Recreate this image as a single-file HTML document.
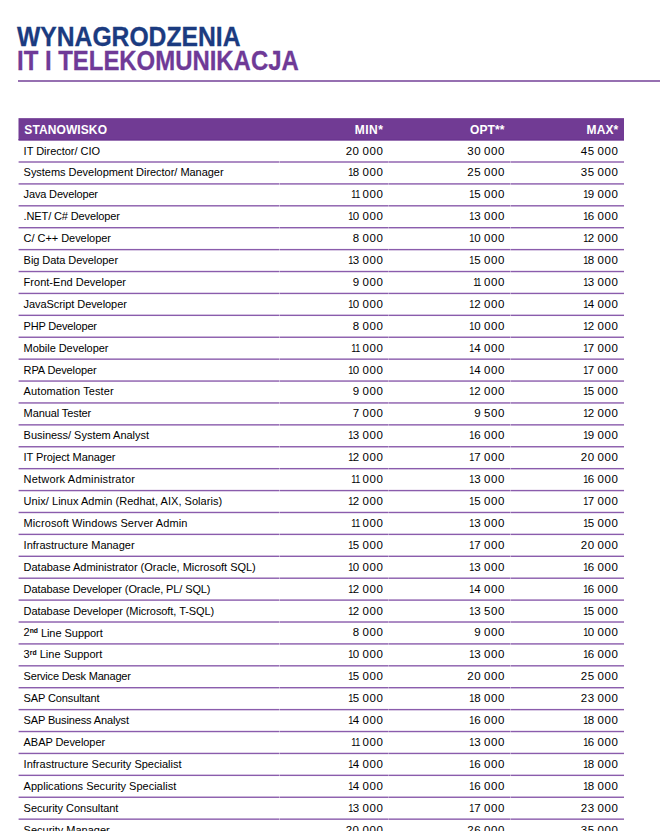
<!DOCTYPE html><html><head><meta charset="utf-8"><style>
*{margin:0;padding:0;box-sizing:border-box}
html,body{width:662px;height:831px;overflow:hidden;background:#fff}
body{position:relative;font-family:"Liberation Sans",Arial,sans-serif}
.t{position:absolute;white-space:nowrap;font-weight:bold;font-size:27px;line-height:1;transform-origin:0 0}
.t1{left:17px;top:24.1px;color:#1b3b80;transform:scaleX(0.914);-webkit-text-stroke:0.3px #1b3b80}
.t2{left:17.4px;top:48.1px;color:#6f3a97;transform:scaleX(0.886);-webkit-text-stroke:0.3px #6f3a97}
.hr{position:absolute;left:18px;top:80px;width:642.3px;height:2px;background:#9670b1}
.h{position:absolute;color:#fff;font-weight:bold;font-size:12px;line-height:1;white-space:nowrap;letter-spacing:0.1px}
.c{position:absolute;color:#000;font-size:11px;line-height:1;white-space:nowrap}
.r{text-align:right}
.o{display:inline-block;width:3.8px;letter-spacing:0}
.o i{font-style:normal;display:inline-block;margin-left:-1.1px;transform:scaleX(.8);transform-origin:1.3px 0}
.n{font-size:11.5px;letter-spacing:0.6px;word-spacing:-1.0px;margin-right:-0.6px}
svg{position:absolute;left:0;top:0;z-index:0}
.h,.c,.t,.hr{z-index:1}
sup{font-size:6.8px;font-weight:bold;vertical-align:0;position:relative;top:-3.4px}
</style></head><body>
<div class="t t1">WYNAGRODZENIA</div>
<div class="t t2">IT I TELEKOMUNIKACJA</div>
<div class="hr"></div>
<div class="h" style="left:24.3px;top:124px">STANOWISKO</div>
<div class="h r" style="right:279.2px;top:124px;margin-right:-0.5px;letter-spacing:0.5px">MIN*</div>
<div class="h r" style="right:157.5px;top:124px;margin-right:-0.1px">OPT**</div>
<div class="h r" style="right:43.8px;top:124px;margin-right:-0.1px">MAX*</div>
<div class="c" style="left:23.6px;top:146.00px;letter-spacing:-0.020px">IT Director/ CIO</div>
<div class="c r n" style="right:279.2px;top:146.00px">20 000</div>
<div class="c r n" style="right:157.5px;top:146.00px">30 000</div>
<div class="c r n" style="right:44.0px;top:146.00px">45 000</div>
<div class="c" style="left:23.6px;top:167.00px;letter-spacing:-0.031px">Systems Development Director/ Manager</div>
<div class="c r n" style="right:279.2px;top:167.00px"><span class="o"><i>1</i></span>8 000</div>
<div class="c r n" style="right:157.5px;top:167.00px">25 000</div>
<div class="c r n" style="right:44.0px;top:167.00px">35 000</div>
<div class="c" style="left:23.6px;top:189.00px;letter-spacing:-0.154px">Java Developer</div>
<div class="c r n" style="right:279.2px;top:189.00px"><span class="o"><i>1</i></span><span class="o"><i>1</i></span> 000</div>
<div class="c r n" style="right:157.5px;top:189.00px"><span class="o"><i>1</i></span>5 000</div>
<div class="c r n" style="right:44.0px;top:189.00px"><span class="o"><i>1</i></span>9 000</div>
<div class="c" style="left:23.6px;top:211.00px;letter-spacing:-0.129px">.NET/ C# Developer</div>
<div class="c r n" style="right:279.2px;top:211.00px"><span class="o"><i>1</i></span>0 000</div>
<div class="c r n" style="right:157.5px;top:211.00px"><span class="o"><i>1</i></span>3 000</div>
<div class="c r n" style="right:44.0px;top:211.00px"><span class="o"><i>1</i></span>6 000</div>
<div class="c" style="left:23.6px;top:233.00px;letter-spacing:-0.047px">C/ C++ Developer</div>
<div class="c r n" style="right:279.2px;top:233.00px">8 000</div>
<div class="c r n" style="right:157.5px;top:233.00px"><span class="o"><i>1</i></span>0 000</div>
<div class="c r n" style="right:44.0px;top:233.00px"><span class="o"><i>1</i></span>2 000</div>
<div class="c" style="left:23.6px;top:255.00px;letter-spacing:-0.053px">Big Data Developer</div>
<div class="c r n" style="right:279.2px;top:255.00px"><span class="o"><i>1</i></span>3 000</div>
<div class="c r n" style="right:157.5px;top:255.00px"><span class="o"><i>1</i></span>5 000</div>
<div class="c r n" style="right:44.0px;top:255.00px"><span class="o"><i>1</i></span>8 000</div>
<div class="c" style="left:23.6px;top:277.00px;letter-spacing:0.017px">Front-End Developer</div>
<div class="c r n" style="right:279.2px;top:277.00px">9 000</div>
<div class="c r n" style="right:157.5px;top:277.00px"><span class="o"><i>1</i></span><span class="o"><i>1</i></span> 000</div>
<div class="c r n" style="right:44.0px;top:277.00px"><span class="o"><i>1</i></span>3 000</div>
<div class="c" style="left:23.6px;top:299.00px;letter-spacing:-0.068px">JavaScript Developer</div>
<div class="c r n" style="right:279.2px;top:299.00px"><span class="o"><i>1</i></span>0 000</div>
<div class="c r n" style="right:157.5px;top:299.00px"><span class="o"><i>1</i></span>2 000</div>
<div class="c r n" style="right:44.0px;top:299.00px"><span class="o"><i>1</i></span>4 000</div>
<div class="c" style="left:23.6px;top:321.00px;letter-spacing:-0.183px">PHP Developer</div>
<div class="c r n" style="right:279.2px;top:321.00px">8 000</div>
<div class="c r n" style="right:157.5px;top:321.00px"><span class="o"><i>1</i></span>0 000</div>
<div class="c r n" style="right:44.0px;top:321.00px"><span class="o"><i>1</i></span>2 000</div>
<div class="c" style="left:23.6px;top:343.00px;letter-spacing:-0.047px">Mobile Developer</div>
<div class="c r n" style="right:279.2px;top:343.00px"><span class="o"><i>1</i></span><span class="o"><i>1</i></span> 000</div>
<div class="c r n" style="right:157.5px;top:343.00px"><span class="o"><i>1</i></span>4 000</div>
<div class="c r n" style="right:44.0px;top:343.00px"><span class="o"><i>1</i></span>7 000</div>
<div class="c" style="left:23.6px;top:365.00px;letter-spacing:-0.117px">RPA Developer</div>
<div class="c r n" style="right:279.2px;top:365.00px"><span class="o"><i>1</i></span>0 000</div>
<div class="c r n" style="right:157.5px;top:365.00px"><span class="o"><i>1</i></span>4 000</div>
<div class="c r n" style="right:44.0px;top:365.00px"><span class="o"><i>1</i></span>7 000</div>
<div class="c" style="left:23.6px;top:386.00px;letter-spacing:0.094px">Automation Tester</div>
<div class="c r n" style="right:279.2px;top:386.00px">9 000</div>
<div class="c r n" style="right:157.5px;top:386.00px"><span class="o"><i>1</i></span>2 000</div>
<div class="c r n" style="right:44.0px;top:386.00px"><span class="o"><i>1</i></span>5 000</div>
<div class="c" style="left:23.6px;top:408.00px;letter-spacing:-0.100px">Manual Tester</div>
<div class="c r n" style="right:279.2px;top:408.00px">7 000</div>
<div class="c r n" style="right:157.5px;top:408.00px">9 500</div>
<div class="c r n" style="right:44.0px;top:408.00px"><span class="o"><i>1</i></span>2 000</div>
<div class="c" style="left:23.6px;top:430.00px;letter-spacing:-0.022px">Business/ System Analyst</div>
<div class="c r n" style="right:279.2px;top:430.00px"><span class="o"><i>1</i></span>3 000</div>
<div class="c r n" style="right:157.5px;top:430.00px"><span class="o"><i>1</i></span>6 000</div>
<div class="c r n" style="right:44.0px;top:430.00px"><span class="o"><i>1</i></span>9 000</div>
<div class="c" style="left:23.6px;top:452.00px;letter-spacing:-0.088px">IT Project Manager</div>
<div class="c r n" style="right:279.2px;top:452.00px"><span class="o"><i>1</i></span>2 000</div>
<div class="c r n" style="right:157.5px;top:452.00px"><span class="o"><i>1</i></span>7 000</div>
<div class="c r n" style="right:44.0px;top:452.00px">20 000</div>
<div class="c" style="left:23.6px;top:474.00px;letter-spacing:0.185px">Network Administrator</div>
<div class="c r n" style="right:279.2px;top:474.00px"><span class="o"><i>1</i></span><span class="o"><i>1</i></span> 000</div>
<div class="c r n" style="right:157.5px;top:474.00px"><span class="o"><i>1</i></span>3 000</div>
<div class="c r n" style="right:44.0px;top:474.00px"><span class="o"><i>1</i></span>6 000</div>
<div class="c" style="left:23.6px;top:496.00px;letter-spacing:0.044px">Unix/ Linux Admin (Redhat, AIX, Solaris)</div>
<div class="c r n" style="right:279.2px;top:496.00px"><span class="o"><i>1</i></span>2 000</div>
<div class="c r n" style="right:157.5px;top:496.00px"><span class="o"><i>1</i></span>5 000</div>
<div class="c r n" style="right:44.0px;top:496.00px"><span class="o"><i>1</i></span>7 000</div>
<div class="c" style="left:23.6px;top:518.00px;letter-spacing:0.083px">Microsoft Windows Server Admin</div>
<div class="c r n" style="right:279.2px;top:518.00px"><span class="o"><i>1</i></span><span class="o"><i>1</i></span> 000</div>
<div class="c r n" style="right:157.5px;top:518.00px"><span class="o"><i>1</i></span>3 000</div>
<div class="c r n" style="right:44.0px;top:518.00px"><span class="o"><i>1</i></span>5 000</div>
<div class="c" style="left:23.6px;top:540.00px;letter-spacing:-0.014px">Infrastructure Manager</div>
<div class="c r n" style="right:279.2px;top:540.00px"><span class="o"><i>1</i></span>5 000</div>
<div class="c r n" style="right:157.5px;top:540.00px"><span class="o"><i>1</i></span>7 000</div>
<div class="c r n" style="right:44.0px;top:540.00px">20 000</div>
<div class="c" style="left:23.6px;top:562.00px;letter-spacing:-0.016px">Database Administrator (Oracle, Microsoft SQL)</div>
<div class="c r n" style="right:279.2px;top:562.00px"><span class="o"><i>1</i></span>0 000</div>
<div class="c r n" style="right:157.5px;top:562.00px"><span class="o"><i>1</i></span>3 000</div>
<div class="c r n" style="right:44.0px;top:562.00px"><span class="o"><i>1</i></span>6 000</div>
<div class="c" style="left:23.6px;top:584.00px;letter-spacing:-0.109px">Database Developer (Oracle, PL/ SQL)</div>
<div class="c r n" style="right:279.2px;top:584.00px"><span class="o"><i>1</i></span>2 000</div>
<div class="c r n" style="right:157.5px;top:584.00px"><span class="o"><i>1</i></span>4 000</div>
<div class="c r n" style="right:44.0px;top:584.00px"><span class="o"><i>1</i></span>6 000</div>
<div class="c" style="left:23.6px;top:606.00px;letter-spacing:-0.064px">Database Developer (Microsoft, T-SQL)</div>
<div class="c r n" style="right:279.2px;top:606.00px"><span class="o"><i>1</i></span>2 000</div>
<div class="c r n" style="right:157.5px;top:606.00px"><span class="o"><i>1</i></span>3 500</div>
<div class="c r n" style="right:44.0px;top:606.00px"><span class="o"><i>1</i></span>5 000</div>
<div class="c" style="left:23.6px;top:627.00px;letter-spacing:-0.047px">2<sup>nd</sup><span style="position:relative;top:1px"> Line Support</span></div>
<div class="c r n" style="right:279.2px;top:627.00px">8 000</div>
<div class="c r n" style="right:157.5px;top:627.00px">9 000</div>
<div class="c r n" style="right:44.0px;top:627.00px"><span class="o"><i>1</i></span>0 000</div>
<div class="c" style="left:23.6px;top:649.00px;letter-spacing:0.027px">3<sup>rd</sup> Line Support</div>
<div class="c r n" style="right:279.2px;top:649.00px"><span class="o"><i>1</i></span>0 000</div>
<div class="c r n" style="right:157.5px;top:649.00px"><span class="o"><i>1</i></span>3 000</div>
<div class="c r n" style="right:44.0px;top:649.00px"><span class="o"><i>1</i></span>6 000</div>
<div class="c" style="left:23.6px;top:671.00px;letter-spacing:-0.211px">Service Desk Manager</div>
<div class="c r n" style="right:279.2px;top:671.00px"><span class="o"><i>1</i></span>5 000</div>
<div class="c r n" style="right:157.5px;top:671.00px">20 000</div>
<div class="c r n" style="right:44.0px;top:671.00px">25 000</div>
<div class="c" style="left:23.6px;top:693.00px;letter-spacing:-0.123px">SAP Consultant</div>
<div class="c r n" style="right:279.2px;top:693.00px"><span class="o"><i>1</i></span>5 000</div>
<div class="c r n" style="right:157.5px;top:693.00px"><span class="o"><i>1</i></span>8 000</div>
<div class="c r n" style="right:44.0px;top:693.00px">23 000</div>
<div class="c" style="left:23.6px;top:715.00px;letter-spacing:-0.137px">SAP Business Analyst</div>
<div class="c r n" style="right:279.2px;top:715.00px"><span class="o"><i>1</i></span>4 000</div>
<div class="c r n" style="right:157.5px;top:715.00px"><span class="o"><i>1</i></span>6 000</div>
<div class="c r n" style="right:44.0px;top:715.00px"><span class="o"><i>1</i></span>8 000</div>
<div class="c" style="left:23.6px;top:737.00px;letter-spacing:-0.062px">ABAP Developer</div>
<div class="c r n" style="right:279.2px;top:737.00px"><span class="o"><i>1</i></span><span class="o"><i>1</i></span> 000</div>
<div class="c r n" style="right:157.5px;top:737.00px"><span class="o"><i>1</i></span>3 000</div>
<div class="c r n" style="right:44.0px;top:737.00px"><span class="o"><i>1</i></span>6 000</div>
<div class="c" style="left:23.6px;top:759.00px;letter-spacing:0.006px">Infrastructure Security Specialist</div>
<div class="c r n" style="right:279.2px;top:759.00px"><span class="o"><i>1</i></span>4 000</div>
<div class="c r n" style="right:157.5px;top:759.00px"><span class="o"><i>1</i></span>6 000</div>
<div class="c r n" style="right:44.0px;top:759.00px"><span class="o"><i>1</i></span>8 000</div>
<div class="c" style="left:23.6px;top:781.00px;letter-spacing:0.013px">Applications Security Specialist</div>
<div class="c r n" style="right:279.2px;top:781.00px"><span class="o"><i>1</i></span>4 000</div>
<div class="c r n" style="right:157.5px;top:781.00px"><span class="o"><i>1</i></span>6 000</div>
<div class="c r n" style="right:44.0px;top:781.00px"><span class="o"><i>1</i></span>8 000</div>
<div class="c" style="left:23.6px;top:803.00px;letter-spacing:-0.033px">Security Consultant</div>
<div class="c r n" style="right:279.2px;top:803.00px"><span class="o"><i>1</i></span>3 000</div>
<div class="c r n" style="right:157.5px;top:803.00px"><span class="o"><i>1</i></span>7 000</div>
<div class="c r n" style="right:44.0px;top:803.00px">23 000</div>
<div class="c" style="left:23.6px;top:825.00px;letter-spacing:-0.007px">Security Manager</div>
<div class="c r n" style="right:279.2px;top:825.00px">20 000</div>
<div class="c r n" style="right:157.5px;top:825.00px">26 000</div>
<div class="c r n" style="right:44.0px;top:825.00px">35 000</div>
<svg width="662" height="831" viewBox="0 0 662 831"><rect x="18.5" y="118.15" width="605.5" height="22.55" fill="#713b94"/><rect x="18.5" y="139" width="605.5" height="1" fill="#6b3590"/><rect x="18.6" y="161.30" width="260.9" height="1.4" fill="#8a5cac"/><rect x="279.9" y="161.30" width="108.2" height="1.4" fill="#8a5cac"/><rect x="388.4" y="161.30" width="121.9" height="1.4" fill="#8a5cac"/><rect x="510.6" y="161.30" width="113.4" height="1.4" fill="#8a5cac"/><rect x="18.6" y="183.21" width="260.9" height="1.4" fill="#8a5cac"/><rect x="279.9" y="183.21" width="108.2" height="1.4" fill="#8a5cac"/><rect x="388.4" y="183.21" width="121.9" height="1.4" fill="#8a5cac"/><rect x="510.6" y="183.21" width="113.4" height="1.4" fill="#8a5cac"/><rect x="18.6" y="205.11" width="260.9" height="1.4" fill="#8a5cac"/><rect x="279.9" y="205.11" width="108.2" height="1.4" fill="#8a5cac"/><rect x="388.4" y="205.11" width="121.9" height="1.4" fill="#8a5cac"/><rect x="510.6" y="205.11" width="113.4" height="1.4" fill="#8a5cac"/><rect x="18.6" y="227.02" width="260.9" height="1.4" fill="#8a5cac"/><rect x="279.9" y="227.02" width="108.2" height="1.4" fill="#8a5cac"/><rect x="388.4" y="227.02" width="121.9" height="1.4" fill="#8a5cac"/><rect x="510.6" y="227.02" width="113.4" height="1.4" fill="#8a5cac"/><rect x="18.6" y="248.92" width="260.9" height="1.4" fill="#8a5cac"/><rect x="279.9" y="248.92" width="108.2" height="1.4" fill="#8a5cac"/><rect x="388.4" y="248.92" width="121.9" height="1.4" fill="#8a5cac"/><rect x="510.6" y="248.92" width="113.4" height="1.4" fill="#8a5cac"/><rect x="18.6" y="270.83" width="260.9" height="1.4" fill="#8a5cac"/><rect x="279.9" y="270.83" width="108.2" height="1.4" fill="#8a5cac"/><rect x="388.4" y="270.83" width="121.9" height="1.4" fill="#8a5cac"/><rect x="510.6" y="270.83" width="113.4" height="1.4" fill="#8a5cac"/><rect x="18.6" y="292.73" width="260.9" height="1.4" fill="#8a5cac"/><rect x="279.9" y="292.73" width="108.2" height="1.4" fill="#8a5cac"/><rect x="388.4" y="292.73" width="121.9" height="1.4" fill="#8a5cac"/><rect x="510.6" y="292.73" width="113.4" height="1.4" fill="#8a5cac"/><rect x="18.6" y="314.63" width="260.9" height="1.4" fill="#8a5cac"/><rect x="279.9" y="314.63" width="108.2" height="1.4" fill="#8a5cac"/><rect x="388.4" y="314.63" width="121.9" height="1.4" fill="#8a5cac"/><rect x="510.6" y="314.63" width="113.4" height="1.4" fill="#8a5cac"/><rect x="18.6" y="336.54" width="260.9" height="1.4" fill="#8a5cac"/><rect x="279.9" y="336.54" width="108.2" height="1.4" fill="#8a5cac"/><rect x="388.4" y="336.54" width="121.9" height="1.4" fill="#8a5cac"/><rect x="510.6" y="336.54" width="113.4" height="1.4" fill="#8a5cac"/><rect x="18.6" y="358.45" width="260.9" height="1.4" fill="#8a5cac"/><rect x="279.9" y="358.45" width="108.2" height="1.4" fill="#8a5cac"/><rect x="388.4" y="358.45" width="121.9" height="1.4" fill="#8a5cac"/><rect x="510.6" y="358.45" width="113.4" height="1.4" fill="#8a5cac"/><rect x="18.6" y="380.35" width="260.9" height="1.4" fill="#8a5cac"/><rect x="279.9" y="380.35" width="108.2" height="1.4" fill="#8a5cac"/><rect x="388.4" y="380.35" width="121.9" height="1.4" fill="#8a5cac"/><rect x="510.6" y="380.35" width="113.4" height="1.4" fill="#8a5cac"/><rect x="18.6" y="402.25" width="260.9" height="1.4" fill="#8a5cac"/><rect x="279.9" y="402.25" width="108.2" height="1.4" fill="#8a5cac"/><rect x="388.4" y="402.25" width="121.9" height="1.4" fill="#8a5cac"/><rect x="510.6" y="402.25" width="113.4" height="1.4" fill="#8a5cac"/><rect x="18.6" y="424.16" width="260.9" height="1.4" fill="#8a5cac"/><rect x="279.9" y="424.16" width="108.2" height="1.4" fill="#8a5cac"/><rect x="388.4" y="424.16" width="121.9" height="1.4" fill="#8a5cac"/><rect x="510.6" y="424.16" width="113.4" height="1.4" fill="#8a5cac"/><rect x="18.6" y="446.06" width="260.9" height="1.4" fill="#8a5cac"/><rect x="279.9" y="446.06" width="108.2" height="1.4" fill="#8a5cac"/><rect x="388.4" y="446.06" width="121.9" height="1.4" fill="#8a5cac"/><rect x="510.6" y="446.06" width="113.4" height="1.4" fill="#8a5cac"/><rect x="18.6" y="467.97" width="260.9" height="1.4" fill="#8a5cac"/><rect x="279.9" y="467.97" width="108.2" height="1.4" fill="#8a5cac"/><rect x="388.4" y="467.97" width="121.9" height="1.4" fill="#8a5cac"/><rect x="510.6" y="467.97" width="113.4" height="1.4" fill="#8a5cac"/><rect x="18.6" y="489.88" width="260.9" height="1.4" fill="#8a5cac"/><rect x="279.9" y="489.88" width="108.2" height="1.4" fill="#8a5cac"/><rect x="388.4" y="489.88" width="121.9" height="1.4" fill="#8a5cac"/><rect x="510.6" y="489.88" width="113.4" height="1.4" fill="#8a5cac"/><rect x="18.6" y="511.78" width="260.9" height="1.4" fill="#8a5cac"/><rect x="279.9" y="511.78" width="108.2" height="1.4" fill="#8a5cac"/><rect x="388.4" y="511.78" width="121.9" height="1.4" fill="#8a5cac"/><rect x="510.6" y="511.78" width="113.4" height="1.4" fill="#8a5cac"/><rect x="18.6" y="533.68" width="260.9" height="1.4" fill="#8a5cac"/><rect x="279.9" y="533.68" width="108.2" height="1.4" fill="#8a5cac"/><rect x="388.4" y="533.68" width="121.9" height="1.4" fill="#8a5cac"/><rect x="510.6" y="533.68" width="113.4" height="1.4" fill="#8a5cac"/><rect x="18.6" y="555.59" width="260.9" height="1.4" fill="#8a5cac"/><rect x="279.9" y="555.59" width="108.2" height="1.4" fill="#8a5cac"/><rect x="388.4" y="555.59" width="121.9" height="1.4" fill="#8a5cac"/><rect x="510.6" y="555.59" width="113.4" height="1.4" fill="#8a5cac"/><rect x="18.6" y="577.50" width="260.9" height="1.4" fill="#8a5cac"/><rect x="279.9" y="577.50" width="108.2" height="1.4" fill="#8a5cac"/><rect x="388.4" y="577.50" width="121.9" height="1.4" fill="#8a5cac"/><rect x="510.6" y="577.50" width="113.4" height="1.4" fill="#8a5cac"/><rect x="18.6" y="599.40" width="260.9" height="1.4" fill="#8a5cac"/><rect x="279.9" y="599.40" width="108.2" height="1.4" fill="#8a5cac"/><rect x="388.4" y="599.40" width="121.9" height="1.4" fill="#8a5cac"/><rect x="510.6" y="599.40" width="113.4" height="1.4" fill="#8a5cac"/><rect x="18.6" y="621.31" width="260.9" height="1.4" fill="#8a5cac"/><rect x="279.9" y="621.31" width="108.2" height="1.4" fill="#8a5cac"/><rect x="388.4" y="621.31" width="121.9" height="1.4" fill="#8a5cac"/><rect x="510.6" y="621.31" width="113.4" height="1.4" fill="#8a5cac"/><rect x="18.6" y="643.21" width="260.9" height="1.4" fill="#8a5cac"/><rect x="279.9" y="643.21" width="108.2" height="1.4" fill="#8a5cac"/><rect x="388.4" y="643.21" width="121.9" height="1.4" fill="#8a5cac"/><rect x="510.6" y="643.21" width="113.4" height="1.4" fill="#8a5cac"/><rect x="18.6" y="665.12" width="260.9" height="1.4" fill="#8a5cac"/><rect x="279.9" y="665.12" width="108.2" height="1.4" fill="#8a5cac"/><rect x="388.4" y="665.12" width="121.9" height="1.4" fill="#8a5cac"/><rect x="510.6" y="665.12" width="113.4" height="1.4" fill="#8a5cac"/><rect x="18.6" y="687.02" width="260.9" height="1.4" fill="#8a5cac"/><rect x="279.9" y="687.02" width="108.2" height="1.4" fill="#8a5cac"/><rect x="388.4" y="687.02" width="121.9" height="1.4" fill="#8a5cac"/><rect x="510.6" y="687.02" width="113.4" height="1.4" fill="#8a5cac"/><rect x="18.6" y="708.92" width="260.9" height="1.4" fill="#8a5cac"/><rect x="279.9" y="708.92" width="108.2" height="1.4" fill="#8a5cac"/><rect x="388.4" y="708.92" width="121.9" height="1.4" fill="#8a5cac"/><rect x="510.6" y="708.92" width="113.4" height="1.4" fill="#8a5cac"/><rect x="18.6" y="730.83" width="260.9" height="1.4" fill="#8a5cac"/><rect x="279.9" y="730.83" width="108.2" height="1.4" fill="#8a5cac"/><rect x="388.4" y="730.83" width="121.9" height="1.4" fill="#8a5cac"/><rect x="510.6" y="730.83" width="113.4" height="1.4" fill="#8a5cac"/><rect x="18.6" y="752.74" width="260.9" height="1.4" fill="#8a5cac"/><rect x="279.9" y="752.74" width="108.2" height="1.4" fill="#8a5cac"/><rect x="388.4" y="752.74" width="121.9" height="1.4" fill="#8a5cac"/><rect x="510.6" y="752.74" width="113.4" height="1.4" fill="#8a5cac"/><rect x="18.6" y="774.64" width="260.9" height="1.4" fill="#8a5cac"/><rect x="279.9" y="774.64" width="108.2" height="1.4" fill="#8a5cac"/><rect x="388.4" y="774.64" width="121.9" height="1.4" fill="#8a5cac"/><rect x="510.6" y="774.64" width="113.4" height="1.4" fill="#8a5cac"/><rect x="18.6" y="796.55" width="260.9" height="1.4" fill="#8a5cac"/><rect x="279.9" y="796.55" width="108.2" height="1.4" fill="#8a5cac"/><rect x="388.4" y="796.55" width="121.9" height="1.4" fill="#8a5cac"/><rect x="510.6" y="796.55" width="113.4" height="1.4" fill="#8a5cac"/><rect x="18.6" y="818.45" width="260.9" height="1.4" fill="#8a5cac"/><rect x="279.9" y="818.45" width="108.2" height="1.4" fill="#8a5cac"/><rect x="388.4" y="818.45" width="121.9" height="1.4" fill="#8a5cac"/><rect x="510.6" y="818.45" width="113.4" height="1.4" fill="#8a5cac"/><rect x="18.6" y="840.36" width="260.9" height="1.4" fill="#8a5cac"/><rect x="279.9" y="840.36" width="108.2" height="1.4" fill="#8a5cac"/><rect x="388.4" y="840.36" width="121.9" height="1.4" fill="#8a5cac"/><rect x="510.6" y="840.36" width="113.4" height="1.4" fill="#8a5cac"/></svg>
</body></html>
